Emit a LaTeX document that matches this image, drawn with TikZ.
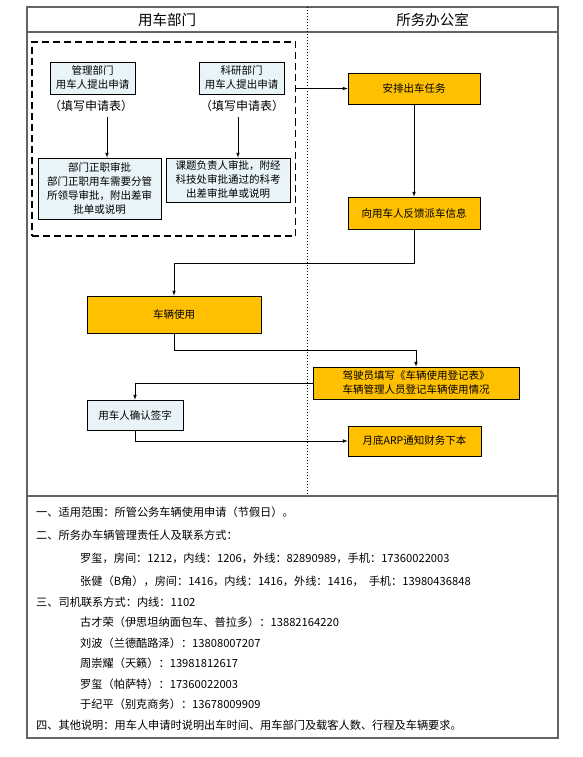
\documentclass[tikz,border=0pt]{standalone}
\usepackage{fontspec}
\setmainfont{Noto Sans CJK SC}
\usetikzlibrary{arrows}
\usetikzlibrary{positioning}
\definecolor{boxblue}{RGB}{232,244,247}
\definecolor{boxorange}{RGB}{255,192,0}
\definecolor{framegray}{RGB}{100,100,100}

\begin{document}
\begin{tikzpicture}[x=1pt, y=-1pt, >=latex, every node/.style={inner sep=0pt, align=center, font=\fontsize{10.5}{14}\selectfont}
]
 \tikzstyle{bluebox}=[rectangle, draw=black, fill=boxblue, line width=0.7pt];
 \tikzstyle{orangebox}=[rectangle, draw=black, fill=boxorange, line width=0.7pt];
 \tikzstyle{note}=[anchor=west, font=\fontsize{11.2}{13}\selectfont];
 \tikzstyle{arr}=[->, line width=0.7pt];
\useasboundingbox (0,0) rectangle (583,757);

% frame
\draw[framegray, line width=1.3pt] (27,7) rectangle (558,738);
\draw[framegray, line width=1.3pt] (27,32) -- (558,32);
\draw[framegray, line width=1.3pt] (27,496) -- (558,496);
\draw[line width=0.7pt, dash pattern=on 1pt off 2pt] (307,7) -- (307,496);
\node[font=\fontsize{14.5}{16}\selectfont] (ha) at (167,20) {用车部门};
\node[font=\fontsize{14.5}{16}\selectfont] (hb) at (432.5,20) {所务办公室};

% application group
\node[draw, line width=1.6pt, dash pattern=on 7pt off 4pt, minimum width=263.5, minimum height=194] (grp) at (163.75,139) {};
\node[bluebox, minimum width=85, minimum height=32] (A) at (92.5,78) {管理部门\\用车人提出申请};
\node[font=\fontsize{12}{14}\selectfont] (fa) at (91,106) {（填写申请表）};
\node[bluebox, minimum width=85, minimum height=32] (B) at (241.5,78) {科研部门\\用车人提出申请};
\node[font=\fontsize{12}{14}\selectfont] (fb) at (242,106) {（填写申请表）};
\node[bluebox, minimum width=123, minimum height=61] (C) at (99.5,188.5) {部门正职审批\\部门正职用车需要分管\\所领导审批，附出差审\\批单或说明};
\node[bluebox, minimum width=124, minimum height=44] (D) at (228,180) {课题负责人审批，附经\\科技处审批通过的科考\\出差审批单或说明};

% office
\node[orangebox, minimum width=132, minimum height=31] (E) at (414,88.5) {安排出车任务};
\node[orangebox, minimum width=132, minimum height=32] (F) at (414,213) {向用车人反馈派车信息};
\node[orangebox, minimum width=174, minimum height=37] (G) at (174,314.5) {车辆使用};
\node[orangebox, minimum width=206, minimum height=32] (H) at (416,383) {驾驶员填写《车辆使用登记表》\\车辆管理人员登记车辆使用情况};
\node[bluebox, minimum width=96, minimum height=30] (I) at (135,415) {用车人确认签字};
\node[orangebox, minimum width=133, minimum height=30] (J) at (414.5,441) {月底ARP通知财务下本};

\draw[arr] ([xshift=16pt,yshift=-5pt]fa.south) -- ([xshift=7.5pt]C.north);
\draw[arr] ([xshift=-4pt,yshift=-5pt]fb.south) -- ([xshift=10pt]D.north);
\draw[arr] (grp.east |- E.west) -- (E.west);
\draw[arr] (E.south) -- (F.north);
\draw[arr] (F.south) -- ++(0,34) -| (G.north);
\draw[arr] (G.south) -- ++(0,17) -| (H.north);
\draw[arr] (H.west) -| (I.north);
\draw[arr] (I.south) |- (J.west);

% notes
\node[note] (n1) at (36,512) {一、适用范围：所管公务车辆使用申请（节假日）。};
\node[note] (n2) at (36,535) {二、所务办车辆管理责任人及联系方式：};
\node[note] (n3) at (80,558) {罗玺，房间：1212，内线：1206，外线：82890989，手机：17360022003};
\node[note] (n4) at (80,581) {张健（B角），房间：1416，内线：1416，外线：1416，\ \ 手机：13980436848};
\node[note] (n5) at (36,602) {三、司机联系方式：内线：1102};
\node[note] (n6) at (80,622) {古才荣（伊思坦纳面包车、普拉多）：13882164220};
\node[note] (n7) at (80,643) {刘波（兰德酷路泽）：13808007207};
\node[note] (n8) at (80,663) {周崇耀（天籁）：13981812617};
\node[note] (n9) at (80,684) {罗玺（帕萨特）：17360022003};
\node[note] (n10) at (80,704) {于纪平（别克商务）：13678009909};
\node[note] (n11) at (36,725) {四、其他说明：用车人申请时说明出车时间、用车部门及载客人数、行程及车辆要求。};

\end{tikzpicture}
\end{document}
